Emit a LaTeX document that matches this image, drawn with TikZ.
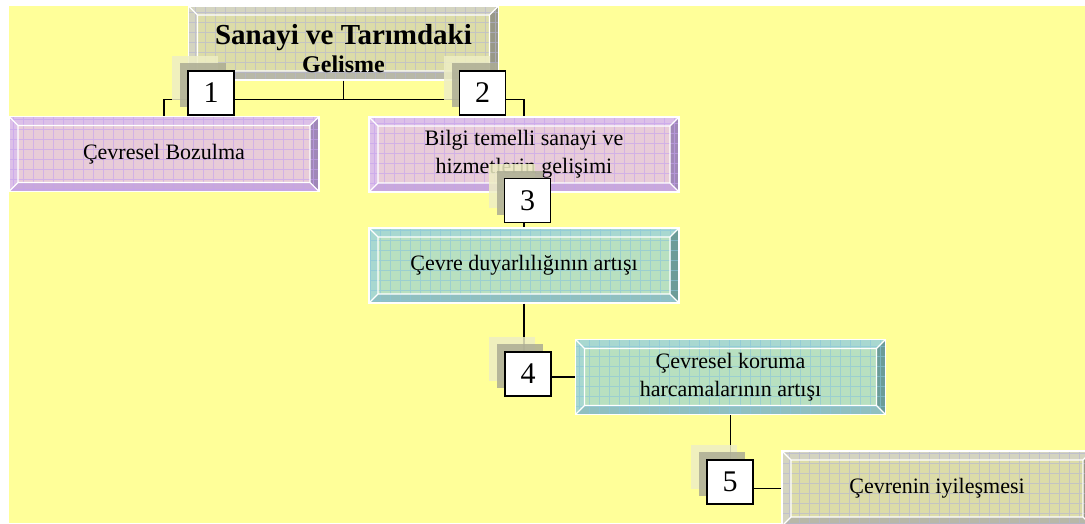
\documentclass[tikz,border=0pt]{standalone}
\usepackage{fontspec}
\setmainfont{Liberation Serif}
\usetikzlibrary{calc,shadows}

\definecolor{bgyellow}{HTML}{FFFF99}
\definecolor{lilacin}{HTML}{E8CCD8}
\definecolor{lilactop}{HTML}{DCC0E8}
\definecolor{lilacbot}{HTML}{C8A8DC}
\definecolor{lilacside}{HTML}{A088B8}
\definecolor{lilacgrid}{HTML}{C4A0F0}
\definecolor{tealin}{HTML}{B8E0C0}
\definecolor{tealtop}{HTML}{A8D8D0}
\definecolor{tealbot}{HTML}{90C0C0}
\definecolor{tealside}{HTML}{6C9C98}
\definecolor{tealgrid}{HTML}{88C4DC}
\definecolor{khakiin}{HTML}{DCDCA8}
\definecolor{khakitop}{HTML}{D4D4C0}
\definecolor{khakibot}{HTML}{B8B8A8}
\definecolor{khakiside}{HTML}{989888}
\definecolor{khakigrid}{HTML}{B4B4D4}
\definecolor{shadelight}{HTML}{EEEEC4}
\definecolor{shadegray}{HTML}{ACAC94}

\tikzset{
  panel/.style={draw=white, line width=1.2pt, minimum width=310pt, minimum height=75pt,
    inner sep=0pt, align=center, font=\fontsize{22}{28}\selectfont,
    path picture={
      \path (path picture bounding box.south west) coordinate (sw)
            (path picture bounding box.north east) coordinate (ne);
      \path (sw|-ne) coordinate (nw) (ne|-sw) coordinate (se)
            ($(sw)+(9pt,9pt)$) coordinate (isw) ($(ne)+(-9pt,-9pt)$) coordinate (ine);
      \path (isw|-ine) coordinate (inw) (ine|-isw) coordinate (ise);
      \fill[panelin] (isw) rectangle (ine);
      \fill[paneltop] (nw) -- (ne) -- (ine) -- (inw) -- cycle;
      \fill[paneltop] (sw) -- (nw) -- (inw) -- (isw) -- cycle;
      \fill[panelbot] (sw) -- (se) -- (ise) -- (isw) -- cycle;
      \fill[panelside] (se) -- (ne) -- (ine) -- (ise) -- cycle;
      \draw[panelgrid, opacity=.6, line width=.6pt, step=10pt] (sw) grid (ne);
      \draw[white, line width=1.2pt] (isw) rectangle (ine)
        (sw) -- (isw) (nw) -- (inw) (ne) -- (ine) (se) -- (ise);
    }},
  lilacpanel/.style={panel, /utils/exec={\colorlet{panelin}{lilacin}\colorlet{paneltop}{lilactop}%
    \colorlet{panelbot}{lilacbot}\colorlet{panelside}{lilacside}\colorlet{panelgrid}{lilacgrid}}},
  tealpanel/.style={panel, /utils/exec={\colorlet{panelin}{tealin}\colorlet{paneltop}{tealtop}%
    \colorlet{panelbot}{tealbot}\colorlet{panelside}{tealside}\colorlet{panelgrid}{tealgrid}}},
  khakipanel/.style={panel, /utils/exec={\colorlet{panelin}{khakiin}\colorlet{paneltop}{khakitop}%
    \colorlet{panelbot}{khakibot}\colorlet{panelside}{khakiside}\colorlet{panelgrid}{khakigrid}}},
  numbox/.style={draw=black, line width=1.3pt, fill=white, minimum width=46pt, minimum height=44pt,
    inner sep=0pt, font=\fontsize{30}{30}\selectfont,
    general shadow={fill=shadelight, fill opacity=.85, draw=none, shadow xshift=-16pt, shadow yshift=15pt},
    general shadow={fill=shadegray, fill opacity=.85, draw=none, shadow xshift=-8pt, shadow yshift=8pt}},
  link/.style={draw=black, line width=1.3pt}
}

\begin{document}
\begin{tikzpicture}[x=1pt,y=-1pt]
  \useasboundingbox (0,0) rectangle (1085,523);
  \clip (0,0) rectangle (1085,523);
  \fill[white] (0,0) rectangle (1085,523);
  \fill[bgyellow] (9,6) rectangle (1085,523);

  % panels
  \node[khakipanel, minimum height=74pt, font=\bfseries\fontsize{29}{28}\selectfont] (dev) at (343.5,43)
    {\rule{0pt}{31pt}Sanayi ve Tarımdaki\\{\fontsize{24}{28}\selectfont Gelisme}};
  \node[lilacpanel] (decay) at (164,154) {Çevresel Bozulma};
  \node[lilacpanel] (info) at (524,154.5) {Bilgi temelli sanayi ve\\hizmetlerin gelişimi};
  \node[tealpanel] (aware) at (524,265.5) {Çevre duyarlılığının artışı};
  \node[tealpanel] (spend) at (730.5,377) {Çevresel koruma\\harcamalarının artışı};
  \node[khakipanel] (heal) at (937,488.5) {Çevrenin iyileşmesi};

  % connectors
  \draw[link] (dev.south) -- ++(0,19) coordinate (fork);
  \draw[link] (fork) -| (decay.north);
  \draw[link] (fork) -| (info.north);
  \draw[link] (info.south) -- (aware.north);
  \draw[link] (aware.south) |- (spend.west);
  \draw[link] (spend.south) |- (heal.west);

  % numbered steps
  \node[numbox] (n1) at (211,93) {1};
  \node[numbox] (n2) at (482.5,93) {2};
  \node[numbox] (n3) at (527.5,200.5) {3};
  \node[numbox] (n4) at (528,374) {4};
  \node[numbox] (n5) at (730,482) {5};
\end{tikzpicture}
\end{document}
